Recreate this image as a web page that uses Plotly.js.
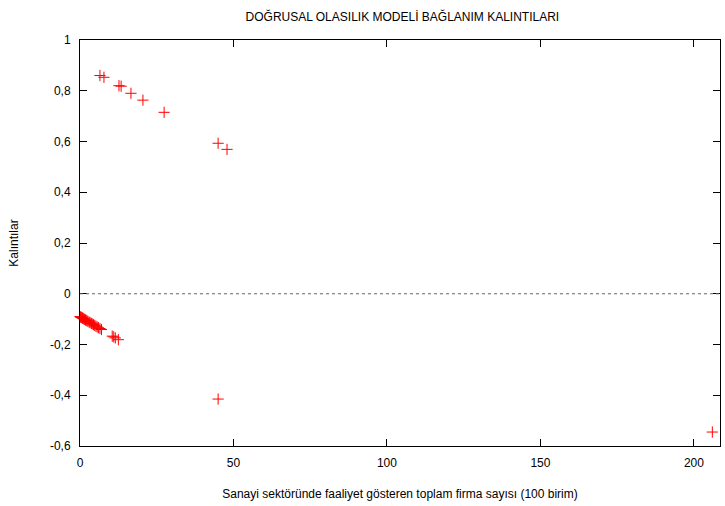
<!DOCTYPE html>
<html>
<head>
<script src="https://cdn.plot.ly/plotly-3.0.1.min.js"></script>
<style>body{margin:0}</style>
</head>
<body>
<div id="chart" style="width:725px;height:506px"></div>
<script>
const firmCount = [0, 0.2, 0.4, 0.6, 0.8, 1, 1.2, 1.5, 1.8, 2, 2.3, 2.6, 3, 3.3, 3.7, 4, 4.4, 4.8, 5.2, 5.6, 6, 6.5, 7, 10.5, 11, 11.5, 12.5,
  6.5, 7.8, 12.7, 13.4, 16.6, 20.5, 27.4, 45, 47.9, 45, 206];
const residuals = [-0.09, -0.092, -0.093, -0.094, -0.096, -0.097, -0.099, -0.101, -0.103, -0.105, -0.107, -0.109, -0.112, -0.114, -0.117, -0.119, -0.122, -0.125, -0.128, -0.131, -0.134, -0.137, -0.141, -0.167, -0.17, -0.174, -0.181,
  0.86, 0.853, 0.82, 0.818, 0.79, 0.763, 0.715, 0.593, 0.569, -0.415, -0.545];

const axisFont = {family: "Liberation Sans, Arial", size: 12, color: "#000"};
const axisBase = {
  showgrid: false, zeroline: false, showline: true, mirror: "ticks",
  linecolor: "#000", linewidth: 1, ticks: "inside", ticklen: 7, tickcolor: "#000",
  tickfont: axisFont, ticklabelstandoff: 6
};

Plotly.newPlot("chart", [{
  x: firmCount, y: residuals, type: "scatter", mode: "markers", cliponaxis: false,
  marker: {symbol: "cross-thin", size: 8, line: {color: "#ff0000", width: 1}}
}], {
  width: 725, height: 506,
  margin: {l: 80, r: 5, t: 40, b: 60},
  paper_bgcolor: "#fff", plot_bgcolor: "#fff",
  showlegend: false,
  title: {text: "DOĞRUSAL OLASILIK MODELİ BAĞLANIM KALINTILARI", font: {family: "Liberation Sans, Arial", size: 12, color: "#000"}, x: 0.555, y: 0.975},
  xaxis: Object.assign({}, axisBase, {range: [0, 208.5], tickvals: [0, 50, 100, 150, 200],
    title: {text: "Sanayi sektöründe faaliyet gösteren toplam firma sayısı (100 birim)", font: axisFont, standoff: 20}}),
  yaxis: Object.assign({}, axisBase, {range: [-0.6, 1],
    tickvals: [-0.6, -0.4, -0.2, 0, 0.2, 0.4, 0.6, 0.8, 1],
    ticktext: ["-0,6", "-0,4", "-0,2", "0", "0,2", "0,4", "0,6", "0,8", "1"],
    title: {text: "Kalıntılar", font: axisFont, standoff: 28}}),
  shapes: [{type: "line", xref: "paper", x0: 0, x1: 1, yref: "y", y0: 0, y1: 0,
    line: {color: "#666", width: 1, dash: "dot"}}]
}, {displayModeBar: false});
</script>
</body>
</html>
